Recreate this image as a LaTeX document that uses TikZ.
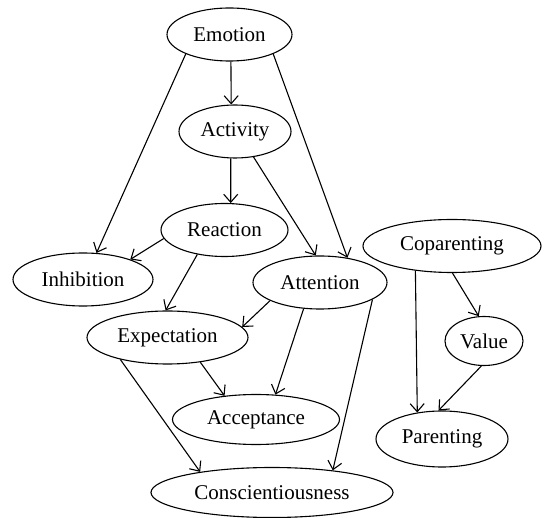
\documentclass[tikz,border=0pt]{standalone}
\usepackage{fontspec}
\setmainfont{Liberation Serif}
\usetikzlibrary{shapes.geometric,arrows.meta}
\begin{document}
\begin{tikzpicture}[x=1pt,y=-1pt,
  vnode/.style={draw,ellipse,line width=1.1pt,inner sep=0pt,minimum height=53pt,
    font=\fontsize{21}{24}\selectfont},
  edge/.style={line width=1.1pt,-{Straight Barb[length=8pt,width=14pt]}}]
\useasboundingbox (0,0) rectangle (544,518);
\node[vnode,minimum width=125pt] (emo) at (229.5,34.5) {Emotion};
\node[vnode,minimum width=112pt] (act) at (235,131.5) {Activity};
\node[vnode,minimum width=127pt] (rea) at (224.5,230) {Reaction};
\node[vnode,minimum width=140pt] (inh) at (83,279.5) {Inhibition};
\node[vnode,minimum width=134pt] (att) at (320,282.5) {Attention};
\node[vnode,minimum width=178pt] (cop) at (452,246) {Coparenting};
\node[vnode,minimum width=161pt] (exp) at (167.5,337.5) {Expectation};
\node[vnode,minimum width=78pt,minimum height=49pt] (val) at (484,341) {Value};
\node[vnode,minimum width=167pt,minimum height=50pt] (acc) at (256,419.5) {Acceptance};
\node[vnode,minimum width=132pt,minimum height=56pt] (par) at (442,439) {Parenting};
\node[vnode,minimum width=242pt,minimum height=50pt] (con) at (272,492.5) {Conscientiousness};

\draw[edge] (emo.-87) -- (act.98.6);
\draw[edge] (emo.-156.2) -- (inh.63);
\draw[edge] (emo.-24.3) -- (att.42.5);
\draw[edge] (act.-99) -- (rea.77);
\draw[edge] (act.-54) -- (att.99.6);
\draw[edge] (rea.188.3) -- (inh.23.7);
\draw[edge] (rea.222.5) -- (exp.94.8);
\draw[edge] (att.200.2) -- (exp.8.8);
\draw[edge] (att.238.3) -- (acc.52.2);
\draw[edge] (att.-18.3) -- (con.20.9);
\draw[edge] (exp.-37.5) -- (acc.143.4);
\draw[edge] (exp.205.3) -- (con.164.3);
\draw[edge] (cop.-89) -- (val.102.5);
\draw[edge] (cop.214.7) -- (par.133);
\draw[edge] (val.-96.6) -- (par.97.4);
\end{tikzpicture}
\end{document}
